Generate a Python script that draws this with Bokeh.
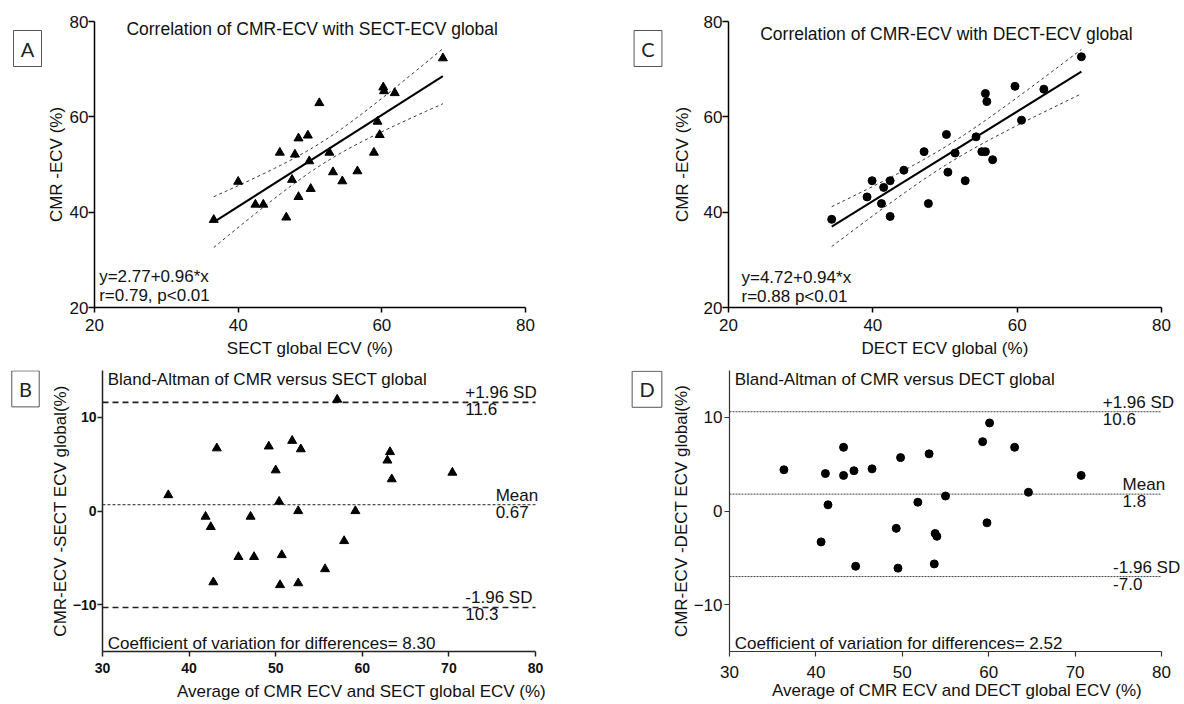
import numpy as np
from bokeh.plotting import figure
from bokeh.layouts import row, column
from bokeh.models import Range1d, Label, FixedTicker
from bokeh.embed import file_html
from bokeh.resources import INLINE

# ---------------- data ----------------
# Panel A: SECT global ECV vs CMR ECV
sect_x = [36.6, 40.0, 42.4, 43.5, 46.7, 45.8, 47.9, 48.4, 49.7, 47.5, 48.4, 50.1, 49.9,
          51.3, 52.7, 53.2, 54.5, 56.6, 58.9, 59.4, 59.7, 60.2, 60.3, 61.8, 68.5]
sect_y = [38.4, 46.4, 41.6, 41.6, 38.9, 52.5, 52.1, 55.5, 56.1, 46.8, 43.2, 44.9, 50.7,
          62.9, 52.5, 48.4, 46.5, 48.6, 52.5, 59.0, 56.2, 66.2, 65.4, 65.0, 72.3]
sect_fit = (2.77, 0.96)

# Panel C: DECT global ECV vs CMR ECV
dect_x = [34.3, 39.2, 39.9, 41.2, 41.5, 42.4, 42.4, 44.3, 47.1, 47.7, 50.2, 50.4, 51.4,
          52.8, 54.3, 55.1, 55.6, 55.6, 55.8, 56.6, 59.7, 60.6, 63.7, 68.9]
dect_y = [38.5, 43.2, 46.6, 41.8, 45.2, 46.6, 39.1, 48.8, 52.7, 41.8, 56.3, 48.4, 52.4,
          46.6, 55.8, 52.7, 52.7, 64.9, 63.2, 51.0, 66.4, 59.3, 65.8, 72.6]
dect_fit = (4.72, 0.94)

# Panel B: Bland-Altman CMR vs SECT
ba_sect_avg = [37.6, 41.9, 42.5, 42.8, 43.2, 45.7, 47.1, 47.5, 49.2, 50.0, 50.4, 50.5, 50.7,
               51.9, 52.6, 52.6, 52.9, 55.7, 57.1, 57.9, 59.2, 62.9, 63.2, 63.4, 70.4]
ba_sect_diff = [1.7, -0.6, -1.7, -7.6, 6.7, -4.9, -0.6, -4.9, 6.9, 4.35, 1.0, -7.9, -4.7,
                7.5, 0.0, -7.7, 6.6, -6.2, 11.9, -3.2, 0.0, 5.4, 6.3, 3.4, 4.1]
ba_sect_lines = {"upper": 11.6, "mean": 0.67, "lower": -10.3}
ba_sect_line_labels = {"upper": ("+1.96 SD", "11.6"), "mean": ("Mean", "0.67"),
                       "lower": ("-1.96 SD", "10.3")}

# Panel D: Bland-Altman CMR vs DECT
ba_dect_avg = [36.3, 40.6, 41.1, 41.4, 43.2, 43.2, 44.4, 44.6, 46.5, 49.3, 49.5, 49.8,
               51.8, 53.1, 53.7, 53.8, 54.0, 55.0, 59.3, 59.8, 60.1, 63.0, 64.6, 70.7]
ba_dect_diff = [4.4, -3.3, 4.0, 0.66, 6.8, 3.8, 4.3, -5.9, 4.5, -1.85, -6.1, 5.7,
                0.94, 6.1, -5.65, -2.4, -2.7, 1.6, 7.4, -1.26, 9.4, 6.8, 2.0, 3.8]
ba_dect_lines = {"upper": 10.6, "mean": 1.8, "lower": -7.0}
ba_dect_line_labels = {"upper": ("+1.96 SD", "10.6"), "mean": ("Mean", "1.8"),
                       "lower": ("-1.96 SD", "-7.0")}

corr_ticks = [20, 40, 60, 80]
ba_xticks = [30, 40, 50, 60, 70, 80]
ba_yticks = [-10, 0, 10]

FONT = "Liberation Sans"
INK = "#111111"


def ci_band(xs, ys, a, b, t=2.07):
    xs = np.asarray(xs, float)
    ys = np.asarray(ys, float)
    n = len(xs)
    resid = ys - (a + b * xs)
    s = np.sqrt((resid ** 2).sum() / (n - 2))
    xbar = xs.mean()
    sxx = ((xs - xbar) ** 2).sum()
    xg = np.linspace(xs.min(), xs.max(), 80)
    yf = a + b * xg
    se = s * np.sqrt(1.0 / n + (xg - xbar) ** 2 / sxx)
    return xg, yf - t * se, yf + t * se


def style(p, xlab, ylab, xt, yt, tick_size, bold, axis_color, axis_w, xcfg, ycfg, xbounds=None):
    p.xgrid.visible = False
    p.ygrid.visible = False
    p.outline_line_color = None
    p.background_fill_color = "white"
    p.border_fill_color = "white"
    p.xaxis.ticker = FixedTicker(ticks=xt)
    p.yaxis.ticker = FixedTicker(ticks=yt)
    for ax, cfg in ((p.xaxis[0], xcfg), (p.yaxis[0], ycfg)):
        tick_out, std, lstd = cfg
        ax.axis_line_color = axis_color
        ax.axis_line_width = axis_w
        ax.major_tick_line_color = axis_color
        ax.major_tick_line_width = axis_w
        ax.major_tick_in = 0
        ax.major_tick_out = tick_out
        ax.minor_tick_line_color = None
        ax.major_label_text_font = FONT
        ax.major_label_text_font_size = tick_size
        ax.major_label_text_color = INK
        ax.major_label_text_font_style = "bold" if bold else "normal"
        ax.major_label_standoff = std
        ax.axis_label_text_font = FONT
        ax.axis_label_text_font_size = "17px"
        ax.axis_label_text_font_style = "normal"
        ax.axis_label_text_color = INK
        ax.axis_label_standoff = lstd
    if xbounds is not None:
        p.xaxis.bounds = xbounds
    p.xaxis.axis_label = xlab
    p.yaxis.axis_label = ylab


def txt(p, x, y, text, align="left", baseline="middle", size="17px", yoff=0, xoff=0):
    p.add_layout(Label(x=x, y=y, text=text, text_font=FONT, text_font_size=size,
                       text_align=align, text_baseline=baseline, text_color=INK,
                       x_offset=xoff, y_offset=yoff, level="overlay"))


def letter_fig(letter, width, height, cx, cy):
    # small blank figure holding the boxed panel letter; ranges map 1:1 to pixels
    f = figure(width=width, height=height, output_backend="svg", toolbar_location=None,
               title=None, x_range=Range1d(0, width), y_range=Range1d(height, 0),
               x_axis_type=None, y_axis_type=None,
               min_border_left=0, min_border_right=0, min_border_top=0, min_border_bottom=0)
    f.outline_line_color = None
    f.xgrid.visible = False
    f.ygrid.visible = False
    f.background_fill_color = "white"
    f.border_fill_color = "white"
    f.add_layout(Label(x=cx, y=cy, text="\u200a" + letter + "\u200a", text_font="Lato",
                       text_font_size="20px",
                       text_align="center", text_baseline="middle", text_color="#222222",
                       border_line_color="#555555", border_line_width=1,
                       background_fill_color="white", padding=6))
    return f


def corr_panel(xs, ys, fit, marker, title, xlab, width, left, right, title_xy,
               eq, rtxt, eq_x, eq_y, ycfg):
    p = figure(width=width, height=360, output_backend="svg", toolbar_location=None,
               x_range=Range1d(20, 80), y_range=Range1d(20, 80),
               min_border_left=left, min_border_right=right, min_border_top=21, min_border_bottom=50)
    style(p, xlab, "CMR -ECV (%)", corr_ticks, corr_ticks, "17px", False, "black", 1.5,
          (5, 6, 5), ycfg)
    xg, lo, hi = ci_band(xs, ys, fit[0], fit[1])
    p.line(xg, lo, line_color="#333333", line_width=1, line_dash="3 3")
    p.line(xg, hi, line_color="#333333", line_width=1, line_dash="3 3")
    lx = [min(xs), max(xs)]
    p.line(lx, [fit[0] + fit[1] * v for v in lx], line_color="black", line_width=2)
    p.scatter(xs, ys, marker=marker, size=8 if marker == "circle" else 9,
              fill_color="black", line_color="black")
    txt(p, title_xy[0], title_xy[1], title, align="center", size="17.5px")
    txt(p, eq_x, eq_y[0], eq)
    txt(p, eq_x, eq_y[1], rtxt)
    return p


def ba_panel(xs, ys, lines, line_labels, marker, title, coef, xlab, ylab, width, left,
             frame_w, top, bottom, bold, axis_color, axis_w, styles, label_x, xcfg, ycfg):
    right_extra = width - left - frame_w
    x_end = 80 + right_extra * 50.0 / frame_w
    p = figure(width=width, height=344, output_backend="svg", toolbar_location=None,
               x_range=Range1d(30, x_end), y_range=Range1d(-15, 15),
               min_border_left=left, min_border_right=0, min_border_top=top, min_border_bottom=bottom)
    style(p, xlab, ylab, ba_xticks, ba_yticks, "14px" if bold else "17px", bold,
          axis_color, axis_w, xcfg, ycfg, xbounds=(30, 80))
    for key in ("upper", "mean", "lower"):
        dash, lw, col = styles[key]
        p.line([30, 80], [lines[key], lines[key]], line_color=col, line_width=lw, line_dash=dash)
    p.scatter(xs, ys, marker=marker, size=8 if marker == "circle" else 9,
              fill_color="black", line_color="black")
    txt(p, 30.6, 14.0, title)
    txt(p, 30.6, -15, coef, baseline="bottom", yoff=-1)
    for key in ("upper", "mean", "lower"):
        name, val = line_labels[key]
        txt(p, label_x[key], lines[key], name, baseline="bottom", yoff=0)
        txt(p, label_x[key], lines[key], val, baseline="top", yoff=-1)
    return p


boxA = letter_fig("A", 43, 360, 27, 34)
pA = corr_panel(sect_x, sect_y, sect_fit, "triangle", "Correlation of CMR-ECV with SECT-ECV global",
                "SECT global ECV (%)", 577, 49, 95, (50.3, 78.5),
                "y=2.77+0.96*x", "r=0.79, p<0.01", 20.65, (26.6, 22.5), (6, 0, 1))
boxC = letter_fig("C", 45, 360, 27.5, 34)
pC = corr_panel(dect_x, dect_y, dect_fit, "circle", "Correlation of CMR-ECV with DECT-ECV global",
                "DECT ECV global (%)", 519, 63, 23, (50.2, 77.4),
                "y=4.72+0.94*x", "r=0.88 p<0.01", 21.8, (26.2, 22.3), (6, 0, 9))

boxB = letter_fig("B", 43, 344, 25, 22.5)
pB = ba_panel(ba_sect_avg, ba_sect_diff, ba_sect_lines, ba_sect_line_labels, "triangle",
              "Bland-Altman of CMR versus SECT global",
              "Coefficient of variation for differences= 8.30",
              "Average of CMR ECV and SECT global ECV (%)", "CMR-ECV -SECT ECV global(%)",
              577, 59, 433, 10, 49, True, "#222222", 1.5,
              {"upper": ("6 4", 1.6, "#222222"), "mean": ("3 2", 1, "#222222"),
               "lower": ("6 4", 1.6, "#222222")},
              {"upper": 71.9, "mean": 75.4, "lower": 71.9},
              (5, 6, 6), (5, 1, 0))
boxD = letter_fig("D", 48, 344, 26.5, 23)
pD = ba_panel(ba_dect_avg, ba_dect_diff, ba_dect_lines, ba_dect_line_labels, "circle",
              "Bland-Altman of CMR versus DECT global",
              "Coefficient of variation for differences= 2.52",
              "Average of CMR ECV and DECT global ECV (%)", "CMR-ECV -DECT ECV global(%)",
              516, 61, 432, 3, 53, False, "#333333", 1.2,
              {"upper": ("2 1", 1, "#444444"), "mean": ("2 1", 1, "#444444"),
               "lower": ("2 1", 1, "#444444")},
              {"upper": 73.2, "mean": 75.5, "lower": 74.4},
              (5, 9, 0), (5, 2, 0))

layout = column(row(boxA, pA, boxC, pC), row(boxB, pB, boxD, pD))
open("out.html", "w").write(file_html(layout, INLINE))
